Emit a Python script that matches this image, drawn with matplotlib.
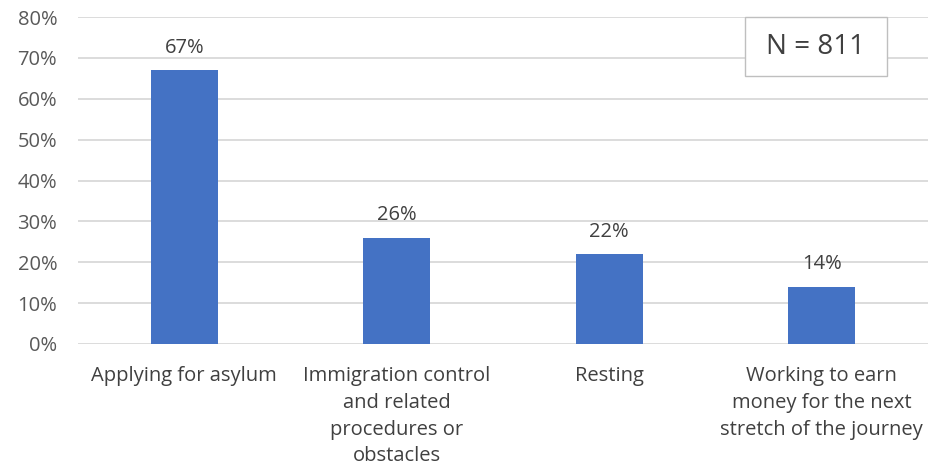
import matplotlib
matplotlib.use("Agg")
import matplotlib.pyplot as plt
from matplotlib.patches import Rectangle
from matplotlib.ticker import PercentFormatter

categories = [
    "Applying for asylum",
    "Immigration control\nand related\nprocedures or\nobstacles",
    "Resting",
    "Working to earn\nmoney for the next\nstretch of the journey",
]
shares = [67, 26, 22, 14]
sample_note = "N = 811"

plt.rcParams["font.family"] = ["Open Sans", "DejaVu Sans"]
TXT = "#404040"

fig = plt.figure(figsize=(9.31, 4.75), dpi=100)
ax = fig.add_axes([0.0838, 0.2758, 0.913, 0.6884])

x = range(len(categories))
bars = ax.bar(x, shares, width=0.315, color="#4472C4", zorder=3)
for b, v in zip(bars, shares):
    ax.annotate(f"{v}%", (b.get_x() + b.get_width() / 2, v),
                xytext=(0, 9), textcoords="offset points",
                ha="center", va="bottom", fontsize=14.5, color=TXT)

ax.set_xlim(-0.5, len(categories) - 0.5)
ax.set_ylim(0, 80)
ax.set_yticks(range(0, 81, 10))
ax.yaxis.set_major_formatter(PercentFormatter(decimals=0))
ax.set_xticks(list(x))
ax.set_xticklabels(categories, fontsize=14.5, color=TXT, linespacing=1.45)
ax.tick_params(axis="y", labelsize=14.5, labelcolor="#595959", length=0, pad=15)
ax.tick_params(axis="x", length=0, pad=16)
ax.grid(axis="y", color="#D9D9D9", lw=1.3, zorder=0)
for s in ax.spines.values():
    s.set_visible(False)

# sample size box, top right
fig.patches.append(Rectangle((745 / 931, 1 - 76 / 475), 142 / 931, 59 / 475,
                             transform=fig.transFigure, fc="white", ec="#BFBFBF",
                             lw=1, zorder=5))
fig.text(816 / 931, 1 - 47 / 475, sample_note, ha="center", va="center",
         fontsize=20, color=TXT, zorder=6)

fig.savefig("out.png", dpi=100)
